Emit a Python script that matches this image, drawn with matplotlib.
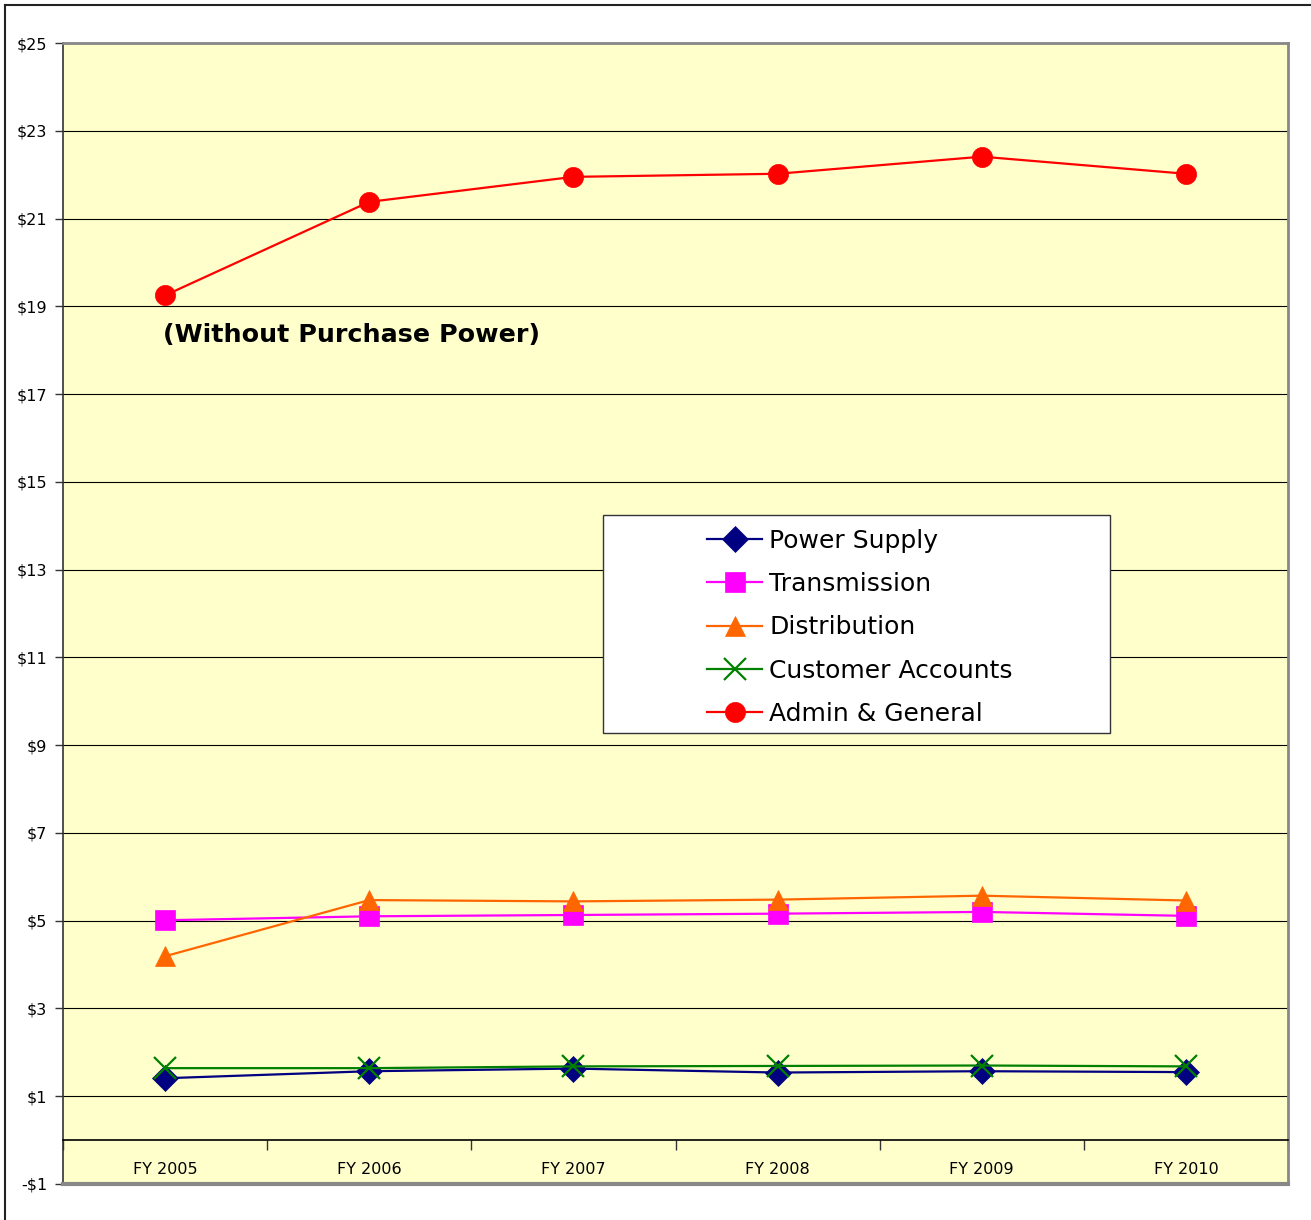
import matplotlib

matplotlib.use("Agg")
import matplotlib.pyplot as plt
from matplotlib.lines import Line2D
from matplotlib.patches import Rectangle

# Cost per customer by function, FY2005-FY2010
years = ["FY 2005", "FY 2006", "FY 2007", "FY 2008", "FY 2009", "FY 2010"]
power_supply = [1.41, 1.57, 1.63, 1.54, 1.57, 1.55]
transmission = [5.01, 5.10, 5.13, 5.16, 5.20, 5.11]
distribution = [4.19, 5.47, 5.44, 5.48, 5.57, 5.46]
customer_accounts = [1.64, 1.64, 1.68, 1.69, 1.70, 1.68]
admin_general = [19.25, 21.38, 21.95, 22.02, 22.41, 22.02]

y_ticks = list(range(-1, 26, 2))
y_tick_labels = [f"-${-v}" if v < 0 else f"${v}" for v in y_ticks]
note = "(Without Purchase Power)"

W, H = 1311, 1220
fig = plt.figure(figsize=(W / 100, H / 100), dpi=100)
plt.rcParams["font.family"] = ["DejaVu Sans"]

ax = fig.add_axes([63 / W, 1 - 1184 / H, 1225 / W, 1141 / H])
ax.set_facecolor("#FFFFCC")
ax.set_xlim(-0.5, 5.5)
ax.set_ylim(-1, 25)

x = list(range(len(years)))
series = [
    ("Power Supply", power_supply, "#000080", "D", 13.5, None),
    ("Transmission", transmission, "#FF00FF", "s", 15, None),
    ("Distribution", distribution, "#FF6600", "^", 15, None),
    ("Customer Accounts", customer_accounts, "#008000", "x", 16, 1.6),
    ("Admin & General", admin_general, "#FF0000", "o", 14.5, None),
]
handles = []
for label, vals, color, marker, ms, mew in series:
    (line,) = ax.plot(
        x, vals, color=color, linewidth=1.6, marker=marker, markersize=ms,
        markerfacecolor=color, markeredgecolor=color,
        markeredgewidth=mew if mew else 0.5, label=label, zorder=3,
    )
    handles.append(line)

# gridlines and frame
ax.set_yticks(y_ticks)
ax.set_yticklabels(y_tick_labels, fontsize=11.5)
ax.yaxis.grid(True, color="black", linewidth=0.8)
ax.set_axisbelow(True)
ax.tick_params(axis="y", direction="out", length=6, width=1, color="#333333", pad=5.5)
for side in ("top", "right"):
    ax.spines[side].set_color("#888888")
    ax.spines[side].set_linewidth(2)
ax.spines["left"].set_color("#333333")
ax.spines["left"].set_linewidth(1.2)
ax.spines["bottom"].set_position(("data", 0))
ax.spines["bottom"].set_color("black")
ax.spines["bottom"].set_linewidth(1.2)
ax.axhline(-1, color="#888888", linewidth=3, zorder=4, clip_on=False)

# category axis at zero: boundary ticks, labels at centres
ax.set_xticks([i - 0.5 for i in range(len(years) + 1)])
ax.set_xticklabels([])
ax.set_xticks(x, minor=True)
ax.set_xticklabels(years, minor=True, fontsize=11.5)
ax.tick_params(axis="x", which="major", direction="out", length=7, width=1, color="#333333")
ax.tick_params(axis="x", which="minor", length=0, pad=16)

ax.text(-0.01, 18.34, note, fontsize=18.3, fontweight="bold", ha="left", va="center")

# legend box
ax.add_patch(Rectangle((603 / W, 1 - 733 / H), 507 / W, 218 / H, transform=fig.transFigure,
                       facecolor="white", edgecolor="#333333", linewidth=1, zorder=5))
leg = fig.legend(
    handles=handles, loc="upper left", bbox_to_anchor=(707 / W, 1 - 529 / H),
    frameon=False, fontsize=18, borderpad=0, handlelength=2.2, handletextpad=0.28,
    labelspacing=0.77, borderaxespad=0,
)
leg.set_zorder(6)

# outer frame of the figure
fig.add_artist(Line2D([5 / W, 5 / W], [0, 1 - 5 / H], transform=fig.transFigure, color="#222222", linewidth=1.5))
fig.add_artist(Line2D([5 / W, 1], [1 - 5 / H, 1 - 5 / H], transform=fig.transFigure, color="#222222", linewidth=1.5))

fig.savefig("out.png", dpi=100)
